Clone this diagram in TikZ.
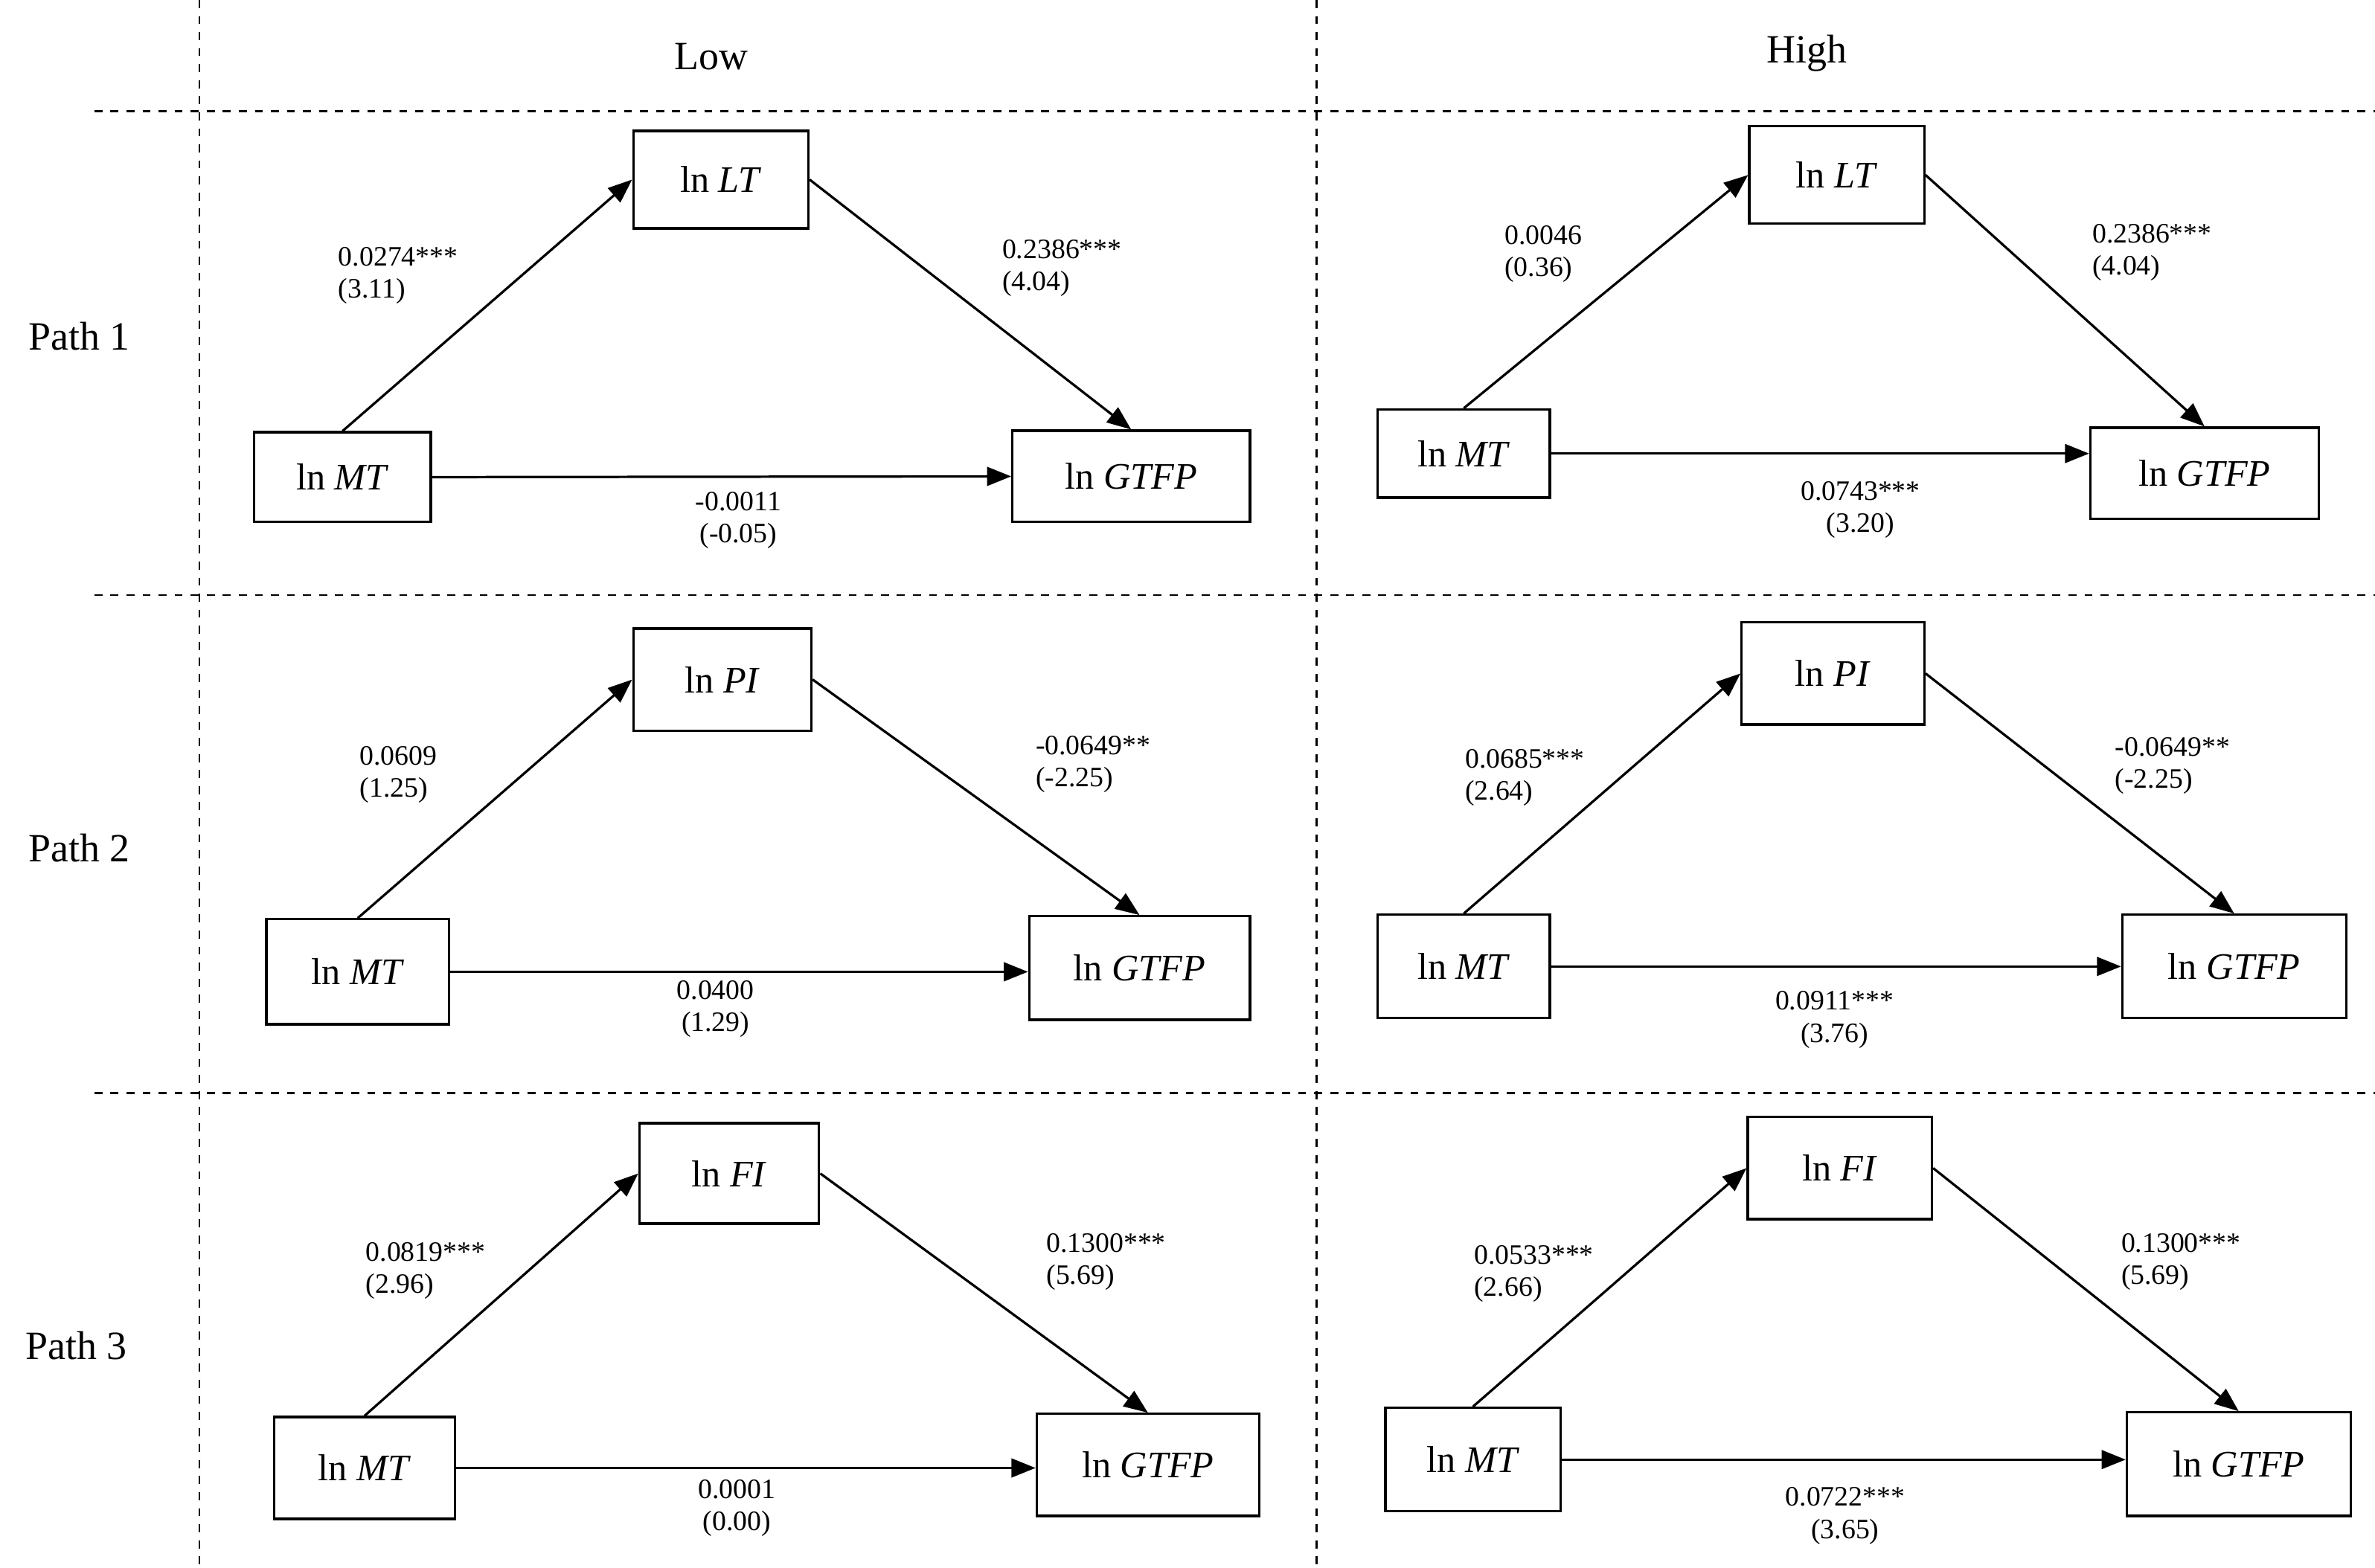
\documentclass[tikz,border=0pt]{standalone}
\usepackage{fontspec}
\setmainfont{Liberation Serif}
\usetikzlibrary{arrows.meta}
\newcommand\bx[6]{%
 \pgfmathsetmacro\bw{(#4-#2)*0.02}\pgfmathsetmacro\bh{(#5-#3)*0.02}%
 \node[box,minimum width=\bw cm,minimum height=\bh cm] (#1) at ({(#2+#4)/2},{(#3+#5)/2}) {#6};}
\begin{document}
\begin{tikzpicture}[x=0.02cm,y=-0.02cm,
 box/.style={draw,line width=0.9pt,inner sep=0pt,font=\fontsize{14}{16}\selectfont},
 arr/.style={line width=0.9pt,-{Triangle[length=9pt,width=7pt]}},
 lab/.style={font=\fontsize{10.5}{12}\selectfont,align=left,inner sep=0pt,anchor=north west},
 labc/.style={font=\fontsize{10.5}{12}\selectfont,align=center,inner sep=0pt,anchor=north},
 hd/.style={font=\fontsize{15}{17}\selectfont},
 dsh/.style={dashed,line width=0.8pt}]
\useasboundingbox (0,0) rectangle (1560,1030);
\coordinate (v1t) at (131,0); \coordinate (v1b) at (131,1030);
\coordinate (v2t) at (865,0); \coordinate (v2b) at (865,1030);
\draw[dsh] (v1t)--(v1b); \draw[dsh] (v2t)--(v2b);
\foreach \y [count=\i] in {73,391,718}{
 \coordinate (hl\i) at (62,\y); \coordinate (hr\i) at (1560,\y);
 \draw[dsh] (hl\i)--(hr\i);}
\node[hd] (low) at (467,37) {Low};
\node[hd] (high) at (1187,35) {High};
\node[hd] (p1) at (52,221) {Path 1};
\node[hd] (p2) at (52,557) {Path 2};
\node[hd] (p3) at (50,884) {Path 3};
% Panel 1 low
\bx{a1}{416}{86}{531}{150}{ln \textit{LT}}
\bx{a2}{167}{284}{283}{343}{ln \textit{MT}}
\bx{a3}{665}{283}{821}{343}{ln \textit{GTFP}}
\draw[arr] (a2.north)--(a1.west); \draw[arr] (a1.east)--(a3.north); \draw[arr] (a2.east)--(a3.west);
\node[lab] (a4) at (222,162) {0.0274***\\(3.11)};
\node[lab] (a5) at (658,157) {0.2386***\\(4.04)};
\node[labc] (a6) at (485,323) {-0.0011\\(-0.05)};
% Panel 1 high
\bx{b1}{1149}{83}{1264}{147}{ln \textit{LT}}
\bx{b2}{905}{269}{1018}{327}{ln \textit{MT}}
\bx{b3}{1373}{281}{1523}{341}{ln \textit{GTFP}}
\draw[arr] (b2.north)--(b1.west); \draw[arr] (b1.east)--(b3.north); \draw[arr] (b2.east)--(b2.east-|b3.west);
\node[lab] (b4) at (988,148) {0.0046\\(0.36)};
\node[lab] (b5) at (1374,147) {0.2386***\\(4.04)};
\node[labc] (b6) at (1222,316) {0.0743***\\(3.20)};
% Panel 2 low
\bx{c1}{416}{413}{533}{480}{ln \textit{PI}}
\bx{c2}{175}{604}{295}{673}{ln \textit{MT}}
\bx{c3}{676}{602}{821}{670}{ln \textit{GTFP}}
\draw[arr] (c2.north)--(c1.west); \draw[arr] (c1.east)--(c3.north); \draw[arr] (c2.east)--(c2.east-|c3.west);
\node[lab] (c4) at (236,490) {0.0609\\(1.25)};
\node[lab] (c5) at (680,483) {-0.0649**\\(-2.25)};
\node[labc] (c6) at (470,644) {0.0400\\(1.29)};
% Panel 2 high
\bx{d1}{1144}{409}{1264}{476}{ln \textit{PI}}
\bx{d2}{905}{601}{1018}{669}{ln \textit{MT}}
\bx{d3}{1394}{601}{1541}{669}{ln \textit{GTFP}}
\draw[arr] (d2.north)--(d1.west); \draw[arr] (d1.east)--(d3.north); \draw[arr] (d2.east)--(d3.west);
\node[lab] (d4) at (962,492) {0.0685***\\(2.64)};
\node[lab] (d5) at (1389,484) {-0.0649**\\(-2.25)};
\node[labc] (d6) at (1205,651) {0.0911***\\(3.76)};
% Panel 3 low
\bx{e1}{420}{738}{538}{804}{ln \textit{FI}}
\bx{e2}{180}{931}{299}{998}{ln \textit{MT}}
\bx{e3}{681}{929}{827}{996}{ln \textit{GTFP}}
\draw[arr] (e2.north)--(e1.west); \draw[arr] (e1.east)--(e3.north); \draw[arr] (e2.east)--(e2.east-|e3.west);
\node[lab] (e4) at (240,816) {0.0819***\\(2.96)};
\node[lab] (e5) at (687,810) {0.1300***\\(5.69)};
\node[labc] (e6) at (484,972) {0.0001\\(0.00)};
% Panel 3 high
\bx{f1}{1148}{734}{1269}{801}{ln \textit{FI}}
\bx{f2}{910}{925}{1025}{993}{ln \textit{MT}}
\bx{f3}{1397}{928}{1544}{996}{ln \textit{GTFP}}
\draw[arr] (f2.north)--(f1.west); \draw[arr] (f1.east)--(f3.north); \draw[arr] (f2.east)--(f2.east-|f3.west);
\node[lab] (f4) at (968,818) {0.0533***\\(2.66)};
\node[lab] (f5) at (1393,810) {0.1300***\\(5.69)};
\node[labc] (f6) at (1212,977) {0.0722***\\(3.65)};
\end{tikzpicture}
\end{document}
